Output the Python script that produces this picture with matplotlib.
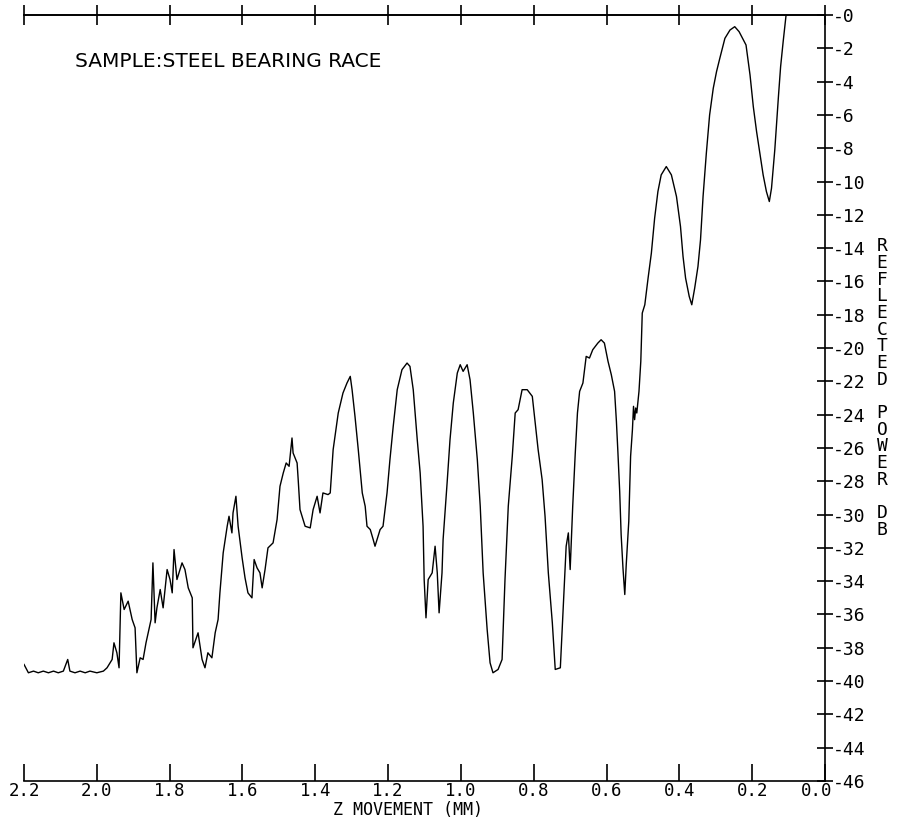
import matplotlib
matplotlib.use("Agg")
import matplotlib.pyplot as plt
import matplotlib.transforms as mtransforms

# z movement (mm) and reflected power (dB)
z_mm = [2.200, 2.188, 2.174, 2.161, 2.147, 2.133, 2.119, 2.106, 2.092, 2.080,
        2.074, 2.060, 2.046, 2.032, 2.019, 2.000, 1.982, 1.972, 1.958, 1.953,
        1.945, 1.939, 1.934, 1.925, 1.914, 1.903, 1.895, 1.890, 1.881, 1.873,
        1.865, 1.859, 1.851, 1.846, 1.840, 1.835, 1.826, 1.818, 1.807, 1.799,
        1.793, 1.788, 1.780, 1.766, 1.758, 1.749, 1.738, 1.736, 1.722, 1.711,
        1.703, 1.695, 1.684, 1.675, 1.667, 1.662, 1.653, 1.642, 1.637, 1.629,
        1.626, 1.618, 1.612, 1.601, 1.593, 1.585, 1.574, 1.568, 1.560, 1.552,
        1.546, 1.538, 1.530, 1.516, 1.505, 1.497, 1.488, 1.480, 1.472, 1.464,
        1.461, 1.450, 1.447, 1.442, 1.428, 1.414, 1.406, 1.395, 1.387, 1.379,
        1.365, 1.359, 1.351, 1.337, 1.324, 1.313, 1.304, 1.299, 1.291, 1.282,
        1.271, 1.263, 1.258, 1.249, 1.241, 1.236, 1.222, 1.214, 1.203, 1.195,
        1.186, 1.175, 1.162, 1.148, 1.140, 1.131, 1.120, 1.112, 1.104, 1.101,
        1.096, 1.090, 1.079, 1.071, 1.065, 1.060, 1.052, 1.049, 1.038, 1.030,
        1.021, 1.010, 1.002, 0.994, 0.983, 0.975, 0.966, 0.955, 0.947, 0.939,
        0.928, 0.920, 0.912, 0.898, 0.887, 0.879, 0.870, 0.859, 0.851, 0.843,
        0.832, 0.818, 0.804, 0.796, 0.788, 0.777, 0.769, 0.760, 0.749, 0.741,
        0.727, 0.719, 0.711, 0.705, 0.700, 0.693, 0.686, 0.680, 0.674, 0.665,
        0.656, 0.647, 0.638, 0.624, 0.615, 0.606, 0.596, 0.587, 0.578, 0.573,
        0.569, 0.564, 0.560, 0.555, 0.550, 0.546, 0.539, 0.534, 0.529, 0.526,
        0.523, 0.520, 0.517, 0.511, 0.506, 0.502, 0.495, 0.486, 0.477, 0.468,
        0.459, 0.450, 0.436, 0.422, 0.408, 0.397, 0.390, 0.383, 0.373, 0.366,
        0.358, 0.349, 0.342, 0.335, 0.326, 0.317, 0.307, 0.298, 0.289, 0.275,
        0.261, 0.248, 0.236, 0.217, 0.206, 0.197, 0.188, 0.179, 0.170, 0.161,
        0.153, 0.147, 0.138, 0.128, 0.122, 0.115, 0.107]
power_db = [-39.0, -39.5, -39.4, -39.5, -39.4, -39.5, -39.4, -39.5, -39.4, -38.7,
            -39.4, -39.5, -39.4, -39.5, -39.4, -39.5, -39.4, -39.2, -38.7, -37.7,
            -38.3, -39.2, -34.7, -35.7, -35.2, -36.3, -36.8, -39.5, -38.6, -38.7,
            -37.7, -37.1, -36.3, -32.9, -36.5, -35.6, -34.5, -35.6, -33.3, -33.9,
            -34.7, -32.1, -33.9, -32.9, -33.3, -34.4, -35.0, -38.0, -37.1, -38.7,
            -39.2, -38.3, -38.6, -37.1, -36.3, -34.7, -32.3, -30.7, -30.1, -31.1,
            -29.9, -28.9, -30.7, -32.6, -33.8, -34.7, -35.0, -32.7, -33.2, -33.5,
            -34.4, -33.3, -32.0, -31.7, -30.3, -28.3, -27.5, -26.9, -27.1, -25.4,
            -26.3, -26.9, -27.9, -29.7, -30.7, -30.8, -29.7, -28.9, -29.9, -28.7,
            -28.8, -28.7, -26.1, -23.9, -22.7, -22.1, -21.7, -22.5, -24.1, -26.1,
            -28.7, -29.5, -30.7, -30.9, -31.5, -31.9, -30.9, -30.7, -28.7, -26.7,
            -24.7, -22.5, -21.3, -20.9, -21.1, -22.5, -25.5, -27.5, -30.7, -33.9,
            -36.2, -33.9, -33.5, -31.9, -33.5, -35.9, -33.5, -31.5, -28.1, -25.5,
            -23.3, -21.5, -21.0, -21.4, -21.0, -21.9, -23.9, -26.7, -29.5, -33.5,
            -36.9, -38.9, -39.5, -39.3, -38.7, -33.9, -29.5, -26.5, -23.9, -23.7,
            -22.5, -22.5, -22.9, -24.5, -26.1, -27.9, -30.1, -33.5, -36.5, -39.3,
            -39.2, -35.6, -31.9, -31.1, -33.3, -29.5, -26.3, -23.9, -22.6, -22.1,
            -20.5, -20.6, -20.1, -19.7, -19.5, -19.7, -20.8, -21.6, -22.6, -24.4,
            -26.2, -28.6, -31.2, -33.2, -34.8, -33.0, -30.4, -26.5, -24.9, -23.5,
            -24.3, -23.6, -23.9, -22.6, -20.8, -17.9, -17.4, -15.8, -14.3, -12.2,
            -10.6, -9.6, -9.1, -9.6, -10.9, -12.7, -14.5, -15.8, -16.9, -17.4,
            -16.4, -15.1, -13.5, -10.9, -8.3, -6.0, -4.4, -3.4, -2.6, -1.4,
            -0.9, -0.7, -1.0, -1.8, -3.6, -5.5, -7.0, -8.3, -9.6, -10.6,
            -11.2, -10.4, -8.1, -4.9, -3.1, -1.6, 0.0]

x_ticks = [2.2, 2.0, 1.8, 1.6, 1.4, 1.2, 1.0, 0.8, 0.6, 0.4, 0.2, 0.0]
y_ticks = list(range(0, -47, -2))
ylabel_letters = "REFLECTED POWER DB"

font = "DejaVu Sans Mono"
plt.rcParams["font.family"] = font

fig = plt.figure(figsize=(9, 8.21), dpi=100)
ax = fig.add_axes([0.0267, 0.0487, 0.89, 0.933])

ax.plot(z_mm, power_db, color="black", lw=1.0)

ax.set_xlim(2.2, 0.0)
ax.set_ylim(-46, 0)

ax.spines["left"].set_visible(False)
for s in ["top", "bottom", "right"]:
    ax.spines[s].set_linewidth(1.2)

ax.set_xticks(x_ticks)
ax.set_xticklabels([f"{v:.1f}" for v in x_ticks])
ax.set_yticks(y_ticks)
ax.set_yticklabels([f"-{abs(v)}" for v in y_ticks])

# bottom ticks point up into the plot, labels just under the line
ax.tick_params(axis="x", which="both", direction="in", length=12, width=1.2,
               top=False, bottom=True, labelsize=12.5, pad=1)
ax.tick_params(axis="y", which="both", direction="inout", length=12, width=1.2,
               left=False, right=True, labelleft=False, labelright=True,
               labelsize=13, pad=0)

# nudge the last x label left so it clears the "-46"
lbl = ax.get_xticklabels()[-1]
lbl.set_transform(lbl.get_transform() + mtransforms.ScaledTranslation(-6 / 72, 0, fig.dpi_scale_trans))

top = ax.secondary_xaxis("top")
top.set_xticks(x_ticks)
top.tick_params(direction="inout", length=14, width=1.2, labeltop=False)
top.spines["top"].set_linewidth(1.2)

ax.text(2.06, -2.8, "SAMPLE:STEEL BEARING RACE", fontsize=14.5,
        family="DejaVu Sans", ha="left", va="center")

fig.text(0.453, 0.003, "Z MOVEMENT (MM)", fontsize=12, ha="center", va="bottom")

# vertical stacked axis title on the right
trans = mtransforms.blended_transform_factory(fig.transFigure, ax.transData)
for i, ch in enumerate(ylabel_letters):
    if ch != " ":
        ax.text(0.98, -13.9 - i, ch, transform=trans, fontsize=13,
                ha="center", va="center", clip_on=False)

fig.savefig("out.png", dpi=100)
